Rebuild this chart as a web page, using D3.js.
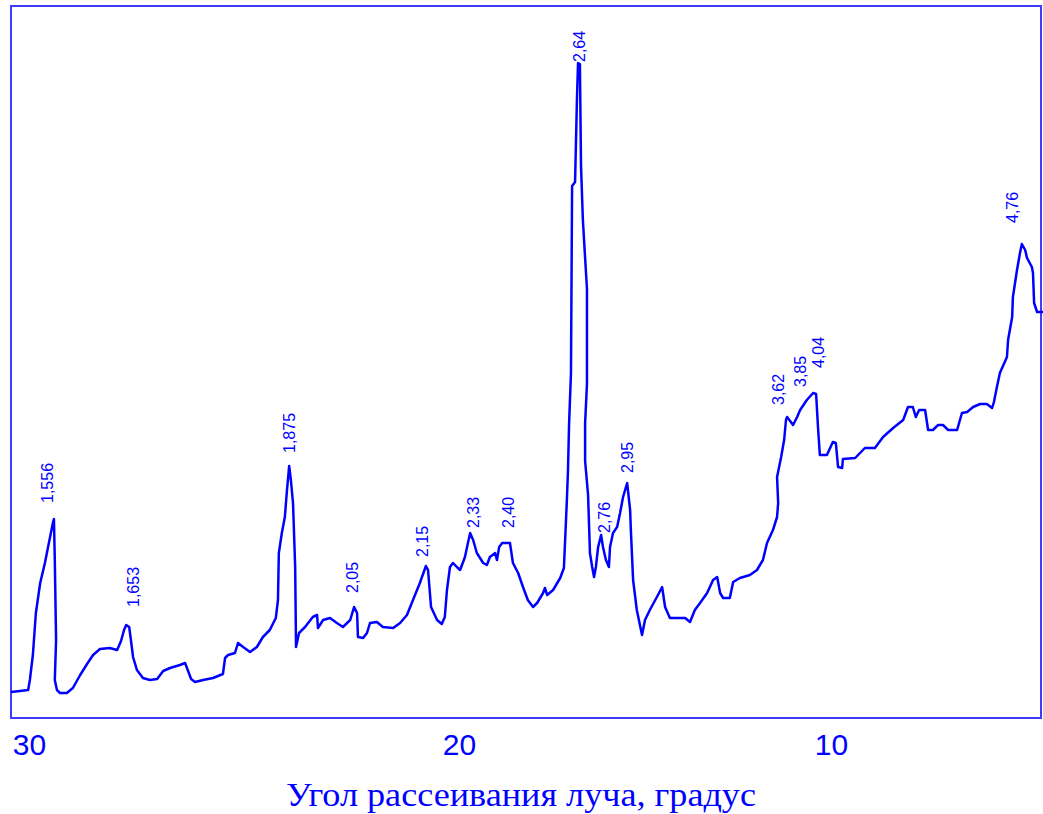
<!DOCTYPE html>
<html>
<head>
<meta charset="utf-8">
<script src="https://cdn.jsdelivr.net/npm/d3@7"></script>
<style>
  html, body { margin: 0; padding: 0; background: #ffffff; }
  svg { display: block; }
</style>
</head>
<body>
<div id="chart"></div>
<script>
// Scattering angle (degrees) of each traced point of the diffractogram
const angle = [
  30.42, 30.21, 30.02, 29.98, 29.91, 29.84, 29.74, 29.63, 29.51, 29.44, 29.42, 29.40, 29.37, 29.40, 29.35,
  29.28, 29.12, 28.98, 28.81, 28.65, 28.51, 28.35, 28.12, 27.95, 27.86, 27.79, 27.74, 27.67, 27.63, 27.58,
  27.49, 27.35, 27.19, 27.02, 26.88, 26.72, 26.49, 26.37, 26.30, 26.23, 26.14, 25.95, 25.72, 25.49, 25.44,
  25.37, 25.21, 25.14, 25.02, 24.86, 24.70, 24.56, 24.40, 24.26, 24.21, 24.19, 24.12, 24.05, 24.00, 23.95,
  23.91, 23.86, 23.81, 23.79, 23.72, 23.58, 23.40, 23.30, 23.28, 23.16, 23.00, 22.84, 22.70, 22.53, 22.44,
  22.37, 22.35, 22.23, 22.14, 22.07, 21.91, 21.77, 21.53, 21.37, 21.21, 21.07, 20.91, 20.77, 20.72, 20.65,
  20.51, 20.40, 20.33, 20.28, 20.21, 20.14, 20.05, 19.97, 19.84, 19.76, 19.70, 19.62, 19.52, 19.35, 19.25,
  19.17, 19.03, 18.98, 18.92, 18.84, 18.63, 18.55, 18.41, 18.28, 18.15, 18.01, 17.90, 17.74, 17.69, 17.63,
  17.47, 17.28, 17.18, 17.10, 17.07, 17.04, 16.99, 16.96, 16.88, 16.83, 16.80, 16.75, 16.72, 16.67, 16.61,
  16.56, 16.56, 16.61, 16.61, 16.53, 16.48, 16.42, 16.37, 16.32, 16.26, 16.18, 16.13, 16.05, 15.97, 15.94,
  15.86, 15.75, 15.67, 15.59, 15.48, 15.40, 15.38, 15.32, 15.22, 15.08, 15.00, 14.87, 14.68, 14.54, 14.46,
  14.33, 14.06, 13.92, 13.79, 13.66, 13.52, 13.33, 13.17, 13.06, 12.98, 12.90, 12.72, 12.63, 12.45, 12.18,
  11.99, 11.83, 11.72, 11.56, 11.45, 11.42, 11.45, 11.34, 11.26, 11.21, 11.18, 11.02, 10.91, 10.83, 10.65,
  10.48, 10.40, 10.35, 10.30, 10.11, 9.95, 9.87, 9.81, 9.70, 9.68, 9.35, 9.09, 8.82, 8.60, 8.33,
  8.06, 7.93, 7.80, 7.72, 7.63, 7.47, 7.39, 7.26, 7.12, 6.99, 6.85, 6.61, 6.48, 6.34, 6.18,
  5.99, 5.81, 5.67, 5.62, 5.54, 5.46, 5.27, 5.24, 5.13, 5.11, 5.00, 4.92, 4.87, 4.78, 4.73,
  4.60, 4.57, 4.54, 4.46, 4.30
];
// Intensity (arbitrary units) at each point
const intensity = [
  26, 27, 28, 38, 63, 105, 135, 155, 181, 196, 199, 158, 78, 38, 28,
  25, 25, 30, 43, 54, 63, 69, 70, 68, 77, 88, 93, 91, 78, 61,
  48, 40, 38, 39, 47, 50, 53, 55, 47, 39, 36, 38, 40, 44, 60,
  63, 65, 75, 71, 66, 71, 81, 88, 100, 118, 165, 185, 201, 228, 252,
  238, 215, 151, 71, 85, 91, 101, 103, 90, 98, 100, 95, 91, 98, 111,
  105, 81, 80, 85, 95, 96, 91, 90, 95, 103, 118, 135, 152, 148, 111,
  98, 94, 101, 128, 151, 155, 151, 148, 161, 175, 185, 178, 165, 155, 153,
  161, 165, 158, 171, 175, 175, 155, 145, 131, 118, 111, 115, 125, 130, 123,
  128, 140, 150, 218, 248, 295, 345, 532, 536, 618, 655, 654, 552, 498, 460,
  429, 334, 295, 257, 223, 165, 151, 141, 151, 171, 183, 171, 158, 151, 171,
  185, 191, 205, 221, 235, 208, 188, 138, 108, 83, 98, 108, 121, 131, 111,
  100, 100, 100, 96, 108, 115, 125, 138, 141, 125, 120, 120, 136, 140, 143,
  148, 158, 175, 188, 201, 215, 241, 261, 278, 298, 301, 293, 301, 308, 318,
  325, 324, 291, 263, 263, 276, 275, 251, 250, 259, 260, 270, 270, 281, 290,
  298, 311, 311, 301, 308, 308, 288, 288, 293, 293, 288, 288, 305, 306, 311,
  314, 314, 310, 316, 331, 345, 361, 378, 401, 421, 448, 465, 474, 468, 460,
  451, 445, 415, 406, 406
];

// Peak annotations: interplanar spacing labels, with the angle/intensity where each label sits
const peakLabels = ["1,556", "1,653", "1,875", "2,05", "2,15", "2,33", "2,40", "2,64", "2,76", "2,95", "3,62", "3,85", "4,04", "4,76"];
const peakLabelAngle = [29.58, 27.58, 23.95, 22.49, 20.84, 19.62, 18.68, 16.77, 16.08, 15.48, 11.42, 10.83, 10.35, 5.13];
const peakLabelIntensity = [215, 111, 265, 125, 161, 190, 190, 656, 185, 245, 313, 331, 350, 495];

// Axis ticks
const tickValues = [30, 20, 10];
const tickLabels = ["30", "20", "10"];
const axisTitle = "Угол рассеивания луча, градус";

const W = 1043, H = 814;
const frame = { left: 11, top: 6, right: 1041, bottom: 718 };
const blue = "#0000ff";
const frameBlue = "#3c3cff";

const svg = d3.select("#chart").append("svg")
  .attr("width", W).attr("height", H);

// x-axis of the instrument chart is not uniform: piecewise linear scale
const x = d3.scaleLinear().domain(tickValues).range([29, 459, 831]);
const y = d3.scaleLinear().domain([0, 712]).range([frame.bottom, frame.top]);

// frame
svg.append("rect")
  .attr("x", frame.left).attr("y", frame.top)
  .attr("width", frame.right - frame.left).attr("height", frame.bottom - frame.top)
  .attr("fill", "none").attr("stroke", frameBlue).attr("stroke-width", 2);

const data = angle.map((a, i) => ({ a, v: intensity[i] }));

svg.append("defs").append("clipPath").attr("id", "clip")
  .append("rect").attr("x", frame.left).attr("y", frame.top)
  .attr("width", frame.right - frame.left + 2).attr("height", frame.bottom - frame.top);

svg.append("path")
  .datum(data)
  .attr("clip-path", "url(#clip)")
  .attr("fill", "none")
  .attr("stroke", blue)
  .attr("stroke-width", 2.5)
  .attr("stroke-linejoin", "round")
  .attr("stroke-linecap", "round")
  .attr("d", d3.line().x(d => x(d.a)).y(d => y(d.v)));

// peak labels (rotated)
svg.append("g").selectAll("text")
  .data(peakLabels)
  .join("text")
  .attr("transform", (t, i) => `translate(${x(peakLabelAngle[i])},${y(peakLabelIntensity[i])}) rotate(-90)`)
  .attr("dy", "0.35em")
  .attr("text-anchor", "start")
  .attr("fill", blue)
  .attr("font-family", "'Liberation Sans', Arial, sans-serif")
  .attr("font-size", 16)
  .text(d => d);

// x axis tick labels
const axis = d3.axisBottom(x).tickValues(tickValues).tickFormat((d, i) => tickLabels[i]).tickSize(0).tickPadding(0);
const gx = svg.append("g").attr("transform", `translate(0,${frame.bottom})`).call(axis);
gx.select(".domain").remove();
gx.selectAll("text")
  .attr("y", 37)
  .attr("dy", 0)
  .attr("fill", blue)
  .attr("font-family", "'Liberation Sans Narrow', 'Liberation Sans', Arial, sans-serif")
  .attr("font-size", 30);

// axis title
svg.append("text")
  .attr("x", 521).attr("y", 806)
  .attr("text-anchor", "middle")
  .attr("fill", blue)
  .attr("font-family", "'Liberation Serif', 'Times New Roman', serif")
  .attr("font-size", 33)
  .attr("textLength", 470)
  .attr("lengthAdjust", "spacingAndGlyphs")
  .text(axisTitle);
</script>
</body>
</html>
